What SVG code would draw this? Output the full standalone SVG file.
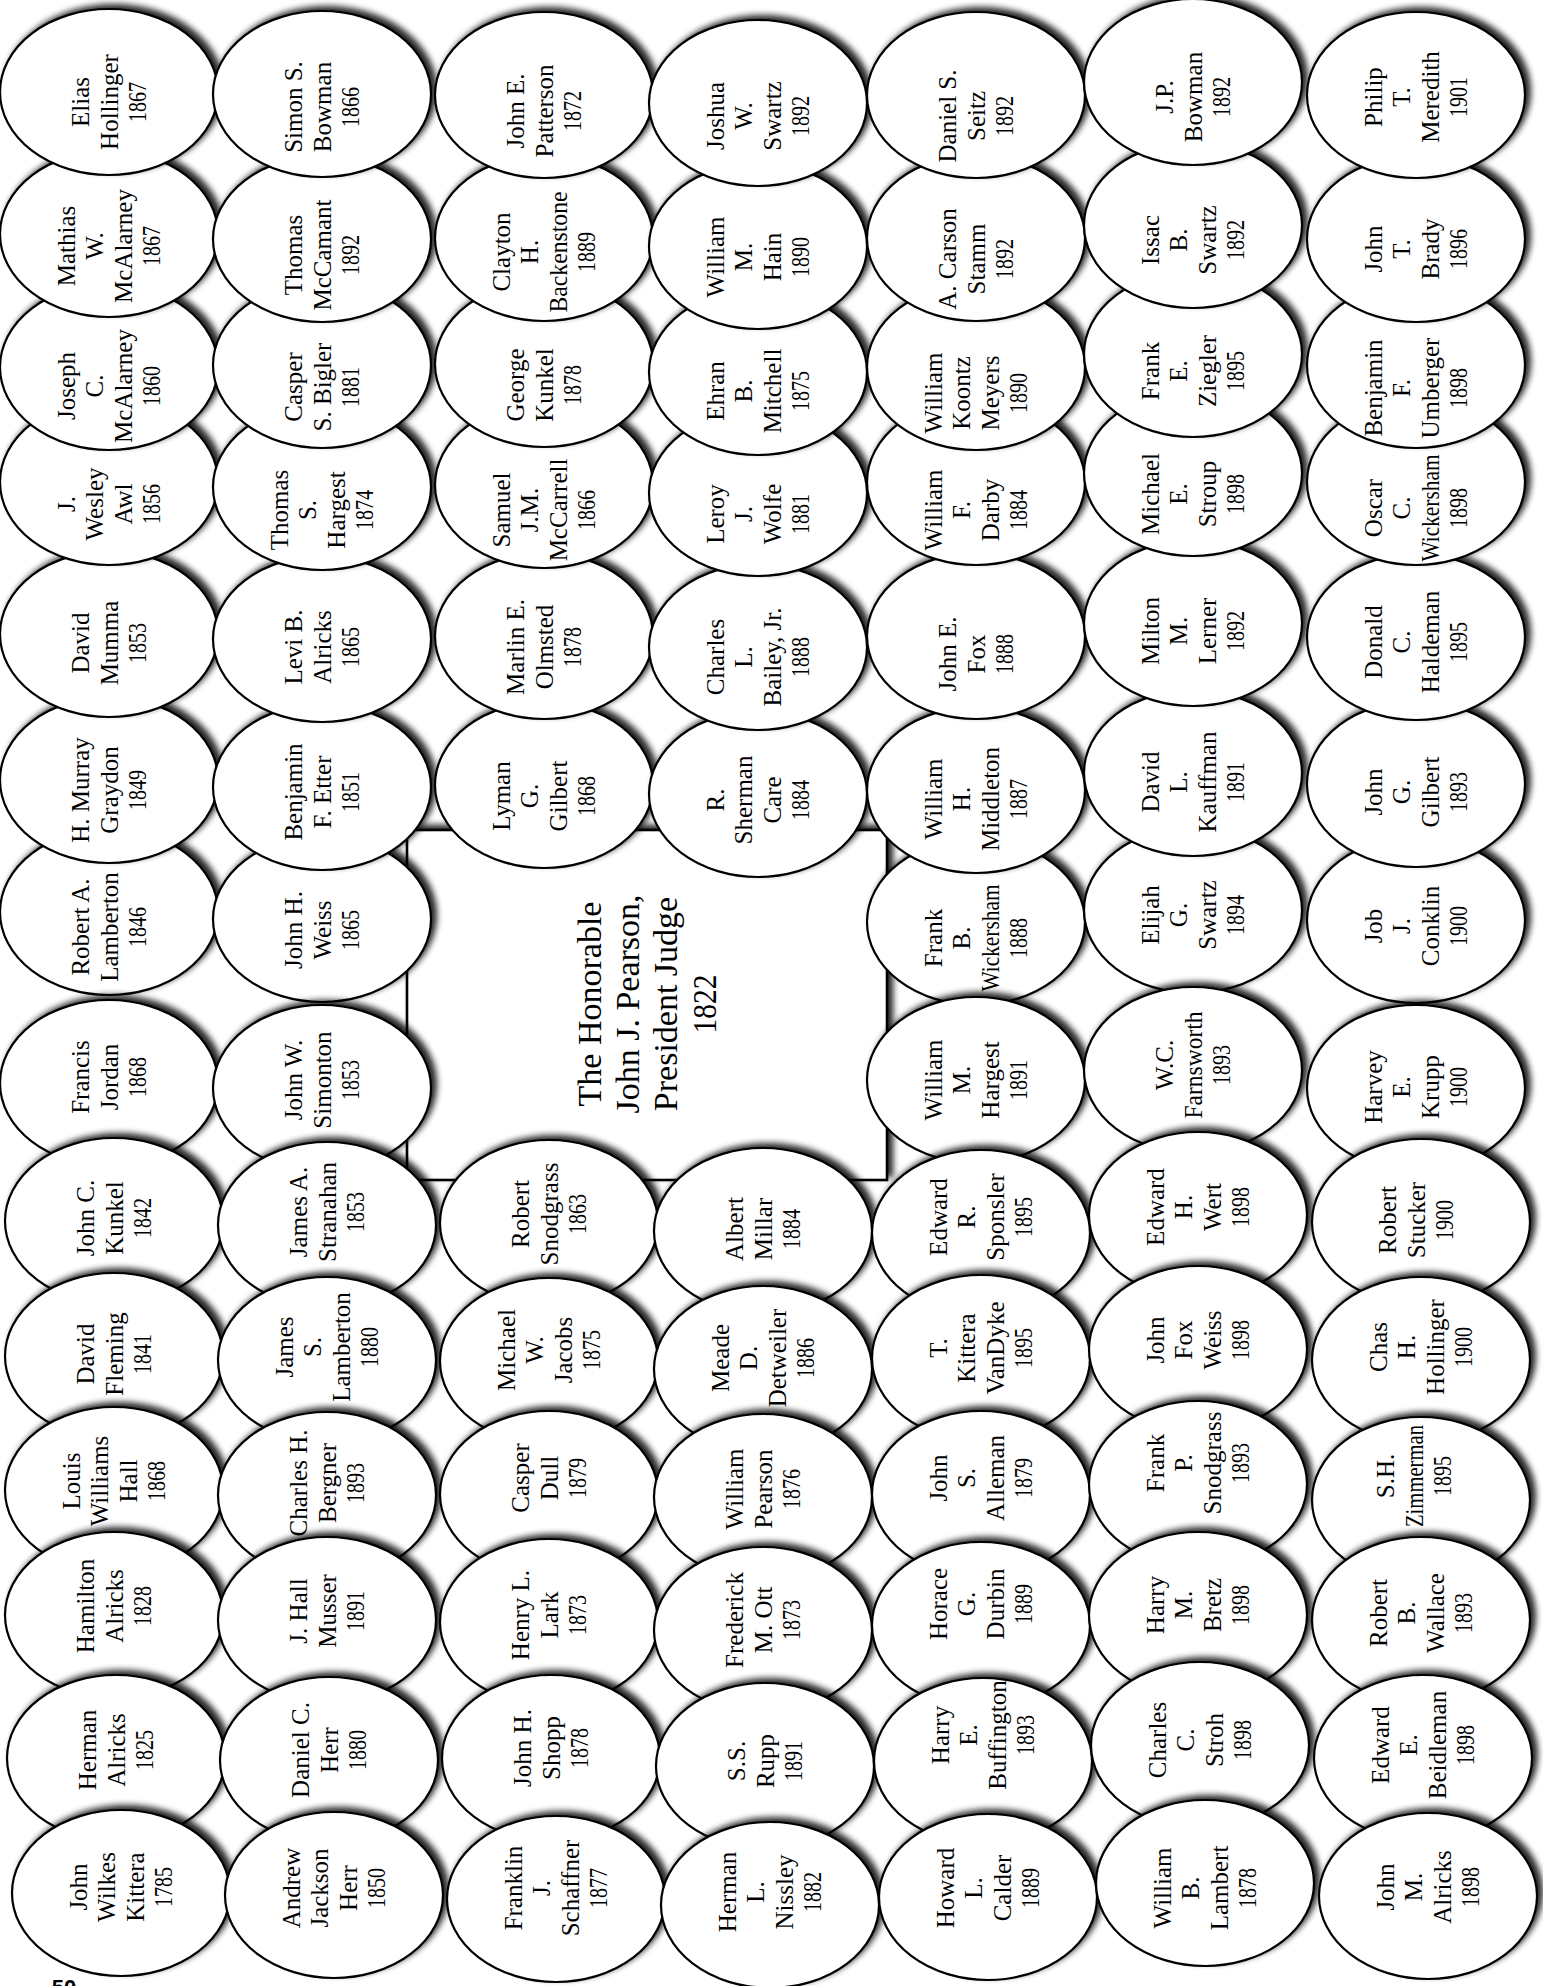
<svg xmlns="http://www.w3.org/2000/svg" width="1543" height="1986" viewBox="0 0 1543 1986">
<defs>
<filter id="sh" x="-15%" y="-20%" width="130%" height="140%" color-interpolation-filters="sRGB">
<feGaussianBlur in="SourceAlpha" stdDeviation="3"/>
<feOffset dx="5" dy="-4" result="o"/>
<feComponentTransfer in="o" result="s"><feFuncA type="linear" slope="0.85"/></feComponentTransfer>
<feMerge><feMergeNode in="s"/><feMergeNode in="SourceGraphic"/></feMerge>
</filter>
</defs>
<style>
.n ellipse{fill:#fff;stroke:#000;stroke-width:2.2;filter:url(#sh)}
text{font-family:"Liberation Serif","Times New Roman",serif;fill:#000;text-anchor:middle}
.n text{font-size:25px}
#judge rect{fill:#fff;stroke:#000;stroke-width:2.6;filter:url(#sh)}
#judge text{font-size:34px}
</style>
<rect x="0" y="0" width="1543" height="1986" fill="#fff"/>
<g id="judge"><rect x="407" y="830" width="480" height="350"/><g transform="translate(647 1004) rotate(-90)"><text y="-46.5">The Honorable</text><text y="-8.2">John J. Pearson,</text><text y="30.2">President Judge</text><text y="68.5" textLength="59" lengthAdjust="spacingAndGlyphs">1822</text></g></g>
<g id="connectors"/>
<g id="nodes">
<!-- column 1 -->
<g id="n-lamberton-1846" class="n"><ellipse cx="109" cy="912" rx="109" ry="83"/><g transform="translate(109 927) rotate(-90)"><text y="-20">Robert A.</text><text y="8.5">Lamberton</text><text y="37" textLength="40" lengthAdjust="spacingAndGlyphs">1846</text></g></g>
<g id="n-graydon-1849" class="n"><ellipse cx="109" cy="780" rx="109" ry="83"/><g transform="translate(109 790) rotate(-90)"><text y="-20">H. Murray</text><text y="8.5">Graydon</text><text y="37" textLength="40" lengthAdjust="spacingAndGlyphs">1849</text></g></g>
<g id="n-mumma-1853" class="n"><ellipse cx="109" cy="634" rx="109" ry="83"/><g transform="translate(109 643) rotate(-90)"><text y="-20">David</text><text y="8.5">Mumma</text><text y="37" textLength="40" lengthAdjust="spacingAndGlyphs">1853</text></g></g>
<g id="n-awl-1856" class="n"><ellipse cx="109" cy="482" rx="109" ry="83"/><g transform="translate(109 504) rotate(-90)"><text y="-34.2">J.</text><text y="-5.7">Wesley</text><text y="22.8">Awl</text><text y="51.3" textLength="40" lengthAdjust="spacingAndGlyphs">1856</text></g></g>
<g id="n-mcalarney-1860" class="n"><ellipse cx="109" cy="367" rx="109" ry="83"/><g transform="translate(109 386) rotate(-90)"><text y="-34.2">Joseph</text><text y="-5.7">C.</text><text y="22.8">McAlarney</text><text y="51.3" textLength="40" lengthAdjust="spacingAndGlyphs">1860</text></g></g>
<g id="n-mcalarney-1867" class="n"><ellipse cx="109" cy="234" rx="109" ry="83"/><g transform="translate(109 246) rotate(-90)"><text y="-34.2">Mathias</text><text y="-5.7">W.</text><text y="22.8">McAlarney</text><text y="51.3" textLength="40" lengthAdjust="spacingAndGlyphs">1867</text></g></g>
<g id="n-hollinger-1867" class="n"><ellipse cx="109" cy="92" rx="109" ry="83"/><g transform="translate(109 102) rotate(-90)"><text y="-20">Elias</text><text y="8.5">Hollinger</text><text y="37" textLength="40" lengthAdjust="spacingAndGlyphs">1867</text></g></g>
<g id="n-jordan-1868" class="n"><ellipse cx="109" cy="1083" rx="109" ry="83"/><g transform="translate(109 1077) rotate(-90)"><text y="-20">Francis</text><text y="8.5">Jordan</text><text y="37" textLength="40" lengthAdjust="spacingAndGlyphs">1868</text></g></g>
<g id="n-kunkel-1842" class="n"><ellipse cx="114" cy="1221" rx="109" ry="83"/><g transform="translate(114 1218) rotate(-90)"><text y="-20">John C.</text><text y="8.5">Kunkel</text><text y="37" textLength="40" lengthAdjust="spacingAndGlyphs">1842</text></g></g>
<g id="n-fleming-1841" class="n"><ellipse cx="114" cy="1356" rx="109" ry="83"/><g transform="translate(114 1354) rotate(-90)"><text y="-20">David</text><text y="8.5">Fleming</text><text y="37" textLength="40" lengthAdjust="spacingAndGlyphs">1841</text></g></g>
<g id="n-hall-1868" class="n"><ellipse cx="114" cy="1490" rx="109" ry="83"/><g transform="translate(114 1481) rotate(-90)"><text y="-34.2">Louis</text><text y="-5.7">Williams</text><text y="22.8">Hall</text><text y="51.3" textLength="40" lengthAdjust="spacingAndGlyphs">1868</text></g></g>
<g id="n-alricks-1828" class="n"><ellipse cx="114" cy="1615" rx="109" ry="83"/><g transform="translate(114 1606) rotate(-90)"><text y="-20">Hamilton</text><text y="8.5">Alricks</text><text y="37" textLength="40" lengthAdjust="spacingAndGlyphs">1828</text></g></g>
<g id="n-alricks-1825" class="n"><ellipse cx="116" cy="1758" rx="109" ry="83"/><g transform="translate(116 1750) rotate(-90)"><text y="-20">Herman</text><text y="8.5">Alricks</text><text y="37" textLength="40" lengthAdjust="spacingAndGlyphs">1825</text></g></g>
<g id="n-kittera-1785" class="n"><ellipse cx="121" cy="1893" rx="109" ry="83"/><g transform="translate(121 1887) rotate(-90)"><text y="-34.2">John</text><text y="-5.7">Wilkes</text><text y="22.8">Kittera</text><text y="51.3" textLength="40" lengthAdjust="spacingAndGlyphs">1785</text></g></g>
<!-- column 2 -->
<g id="n-weiss-1865" class="n"><ellipse cx="322" cy="919" rx="109" ry="83"/><g transform="translate(322 930) rotate(-90)"><text y="-20">John H.</text><text y="8.5">Weiss</text><text y="37" textLength="40" lengthAdjust="spacingAndGlyphs">1865</text></g></g>
<g id="n-etter-1851" class="n"><ellipse cx="322" cy="787" rx="109" ry="83"/><g transform="translate(322 792) rotate(-90)"><text y="-20">Benjamin</text><text y="8.5">F. Etter</text><text y="37" textLength="40" lengthAdjust="spacingAndGlyphs">1851</text></g></g>
<g id="n-alricks-1865" class="n"><ellipse cx="322" cy="639" rx="109" ry="83"/><g transform="translate(322 647) rotate(-90)"><text y="-20">Levi B.</text><text y="8.5">Alricks</text><text y="37" textLength="40" lengthAdjust="spacingAndGlyphs">1865</text></g></g>
<g id="n-hargest-1874" class="n"><ellipse cx="322" cy="487" rx="109" ry="83"/><g transform="translate(322 510) rotate(-90)"><text y="-34.2">Thomas</text><text y="-5.7">S.</text><text y="22.8">Hargest</text><text y="51.3" textLength="40" lengthAdjust="spacingAndGlyphs">1874</text></g></g>
<g id="n-bigler-1881" class="n"><ellipse cx="322" cy="365" rx="109" ry="83"/><g transform="translate(322 387) rotate(-90)"><text y="-20">Casper</text><text y="8.5">S. Bigler</text><text y="37" textLength="40" lengthAdjust="spacingAndGlyphs">1881</text></g></g>
<g id="n-mccamant-1892" class="n"><ellipse cx="322" cy="239" rx="109" ry="83"/><g transform="translate(322 255) rotate(-90)"><text y="-20">Thomas</text><text y="8.5">McCamant</text><text y="37" textLength="40" lengthAdjust="spacingAndGlyphs">1892</text></g></g>
<g id="n-bowman-1866" class="n"><ellipse cx="322" cy="94" rx="109" ry="83"/><g transform="translate(322 107) rotate(-90)"><text y="-20">Simon S.</text><text y="8.5">Bowman</text><text y="37" textLength="40" lengthAdjust="spacingAndGlyphs">1866</text></g></g>
<g id="n-simonton-1853" class="n"><ellipse cx="322" cy="1088" rx="109" ry="83"/><g transform="translate(322 1080) rotate(-90)"><text y="-20">John W.</text><text y="8.5">Simonton</text><text y="37" textLength="40" lengthAdjust="spacingAndGlyphs">1853</text></g></g>
<g id="n-stranahan-1853" class="n"><ellipse cx="327" cy="1225" rx="109" ry="83"/><g transform="translate(327 1212) rotate(-90)"><text y="-20">James A.</text><text y="8.5">Stranahan</text><text y="37" textLength="40" lengthAdjust="spacingAndGlyphs">1853</text></g></g>
<g id="n-lamberton-1880" class="n"><ellipse cx="327" cy="1360" rx="109" ry="83"/><g transform="translate(327 1347) rotate(-90)"><text y="-34.2">James</text><text y="-5.7">S.</text><text y="22.8">Lamberton</text><text y="51.3" textLength="40" lengthAdjust="spacingAndGlyphs">1880</text></g></g>
<g id="n-bergner-1893" class="n"><ellipse cx="327" cy="1495" rx="109" ry="83"/><g transform="translate(327 1483) rotate(-90)"><text y="-20">Charles H.</text><text y="8.5">Bergner</text><text y="37" textLength="40" lengthAdjust="spacingAndGlyphs">1893</text></g></g>
<g id="n-musser-1891" class="n"><ellipse cx="327" cy="1620" rx="109" ry="83"/><g transform="translate(327 1611) rotate(-90)"><text y="-20">J. Hall</text><text y="8.5">Musser</text><text y="37" textLength="40" lengthAdjust="spacingAndGlyphs">1891</text></g></g>
<g id="n-herr-1880" class="n"><ellipse cx="329" cy="1760" rx="109" ry="83"/><g transform="translate(329 1750) rotate(-90)"><text y="-20">Daniel C.</text><text y="8.5">Herr</text><text y="37" textLength="40" lengthAdjust="spacingAndGlyphs">1880</text></g></g>
<g id="n-herr-1850" class="n"><ellipse cx="334" cy="1895" rx="109" ry="83"/><g transform="translate(334 1888) rotate(-90)"><text y="-34.2">Andrew</text><text y="-5.7">Jackson</text><text y="22.8">Herr</text><text y="51.3" textLength="40" lengthAdjust="spacingAndGlyphs">1850</text></g></g>
<!-- column 3 -->
<g id="n-gilbert-1868" class="n"><ellipse cx="544" cy="785" rx="109" ry="83"/><g transform="translate(544 796) rotate(-90)"><text y="-34.2">Lyman</text><text y="-5.7">G.</text><text y="22.8">Gilbert</text><text y="51.3" textLength="40" lengthAdjust="spacingAndGlyphs">1868</text></g></g>
<g id="n-olmsted-1878" class="n"><ellipse cx="544" cy="636" rx="109" ry="83"/><g transform="translate(544 647) rotate(-90)"><text y="-20">Marlin E.</text><text y="8.5">Olmsted</text><text y="37" textLength="40" lengthAdjust="spacingAndGlyphs">1878</text></g></g>
<g id="n-mccarrell-1866" class="n"><ellipse cx="544" cy="485" rx="109" ry="83"/><g transform="translate(544 510) rotate(-90)"><text y="-34.2">Samuel</text><text y="-5.7">J.M.</text><text y="22.8">McCarrell</text><text y="51.3" textLength="40" lengthAdjust="spacingAndGlyphs">1866</text></g></g>
<g id="n-kunkel-1878" class="n"><ellipse cx="544" cy="364" rx="109" ry="83"/><g transform="translate(544 385) rotate(-90)"><text y="-20">George</text><text y="8.5">Kunkel</text><text y="37" textLength="40" lengthAdjust="spacingAndGlyphs">1878</text></g></g>
<g id="n-backenstone-1889" class="n"><ellipse cx="544" cy="238" rx="109" ry="83"/><g transform="translate(544 252) rotate(-90)"><text y="-34.2">Clayton</text><text y="-5.7">H.</text><text y="22.8" textLength="121" lengthAdjust="spacingAndGlyphs">Backenstone</text><text y="51.3" textLength="40" lengthAdjust="spacingAndGlyphs">1889</text></g></g>
<g id="n-patterson-1872" class="n"><ellipse cx="544" cy="95" rx="109" ry="83"/><g transform="translate(544 111) rotate(-90)"><text y="-20">John E.</text><text y="8.5">Patterson</text><text y="37" textLength="40" lengthAdjust="spacingAndGlyphs">1872</text></g></g>
<g id="n-snodgrass-1863" class="n"><ellipse cx="549" cy="1223" rx="109" ry="83"/><g transform="translate(549 1214) rotate(-90)"><text y="-20">Robert</text><text y="8.5">Snodgrass</text><text y="37" textLength="40" lengthAdjust="spacingAndGlyphs">1863</text></g></g>
<g id="n-jacobs-1875" class="n"><ellipse cx="549" cy="1361" rx="109" ry="83"/><g transform="translate(549 1350) rotate(-90)"><text y="-34.2">Michael</text><text y="-5.7">W.</text><text y="22.8">Jacobs</text><text y="51.3" textLength="40" lengthAdjust="spacingAndGlyphs">1875</text></g></g>
<g id="n-dull-1879" class="n"><ellipse cx="549" cy="1494" rx="109" ry="83"/><g transform="translate(549 1478) rotate(-90)"><text y="-20">Casper</text><text y="8.5">Dull</text><text y="37" textLength="40" lengthAdjust="spacingAndGlyphs">1879</text></g></g>
<g id="n-lark-1873" class="n"><ellipse cx="549" cy="1622" rx="109" ry="83"/><g transform="translate(549 1615) rotate(-90)"><text y="-20">Henry L.</text><text y="8.5">Lark</text><text y="37" textLength="40" lengthAdjust="spacingAndGlyphs">1873</text></g></g>
<g id="n-shopp-1878" class="n"><ellipse cx="551" cy="1758" rx="109" ry="83"/><g transform="translate(551 1748) rotate(-90)"><text y="-20">John H.</text><text y="8.5">Shopp</text><text y="37" textLength="40" lengthAdjust="spacingAndGlyphs">1878</text></g></g>
<g id="n-schaffner-1877" class="n"><ellipse cx="556" cy="1899" rx="109" ry="83"/><g transform="translate(556 1888) rotate(-90)"><text y="-34.2">Franklin</text><text y="-5.7">J.</text><text y="22.8">Schaffner</text><text y="51.3" textLength="40" lengthAdjust="spacingAndGlyphs">1877</text></g></g>
<!-- column 4 -->
<g id="n-care-1884" class="n"><ellipse cx="758" cy="794" rx="109" ry="83"/><g transform="translate(758 800) rotate(-90)"><text y="-34.2">R.</text><text y="-5.7">Sherman</text><text y="22.8">Care</text><text y="51.3" textLength="40" lengthAdjust="spacingAndGlyphs">1884</text></g></g>
<g id="n-bailey-1888" class="n"><ellipse cx="758" cy="647" rx="109" ry="83"/><g transform="translate(758 657) rotate(-90)"><text y="-34.2">Charles</text><text y="-5.7">L.</text><text y="22.8">Bailey, Jr.</text><text y="51.3" textLength="40" lengthAdjust="spacingAndGlyphs">1888</text></g></g>
<g id="n-wolfe-1881" class="n"><ellipse cx="758" cy="493" rx="109" ry="83"/><g transform="translate(758 514) rotate(-90)"><text y="-34.2">Leroy</text><text y="-5.7">J.</text><text y="22.8">Wolfe</text><text y="51.3" textLength="40" lengthAdjust="spacingAndGlyphs">1881</text></g></g>
<g id="n-mitchell-1875" class="n"><ellipse cx="758" cy="372" rx="109" ry="83"/><g transform="translate(758 391) rotate(-90)"><text y="-34.2">Ehran</text><text y="-5.7">B.</text><text y="22.8">Mitchell</text><text y="51.3" textLength="40" lengthAdjust="spacingAndGlyphs">1875</text></g></g>
<g id="n-hain-1890" class="n"><ellipse cx="758" cy="246" rx="109" ry="83"/><g transform="translate(758 257) rotate(-90)"><text y="-34.2">William</text><text y="-5.7">M.</text><text y="22.8">Hain</text><text y="51.3" textLength="40" lengthAdjust="spacingAndGlyphs">1890</text></g></g>
<g id="n-swartz-1892a" class="n"><ellipse cx="758" cy="103" rx="109" ry="83"/><g transform="translate(758 116) rotate(-90)"><text y="-34.2">Joshua</text><text y="-5.7">W.</text><text y="22.8">Swartz</text><text y="51.3" textLength="40" lengthAdjust="spacingAndGlyphs">1892</text></g></g>
<g id="n-millar-1884" class="n"><ellipse cx="763" cy="1231" rx="109" ry="83"/><g transform="translate(763 1229) rotate(-90)"><text y="-20">Albert</text><text y="8.5">Millar</text><text y="37" textLength="40" lengthAdjust="spacingAndGlyphs">1884</text></g></g>
<g id="n-detweiler-1886" class="n"><ellipse cx="763" cy="1369" rx="109" ry="83"/><g transform="translate(763 1358) rotate(-90)"><text y="-34.2">Meade</text><text y="-5.7">D.</text><text y="22.8">Detweiler</text><text y="51.3" textLength="40" lengthAdjust="spacingAndGlyphs">1886</text></g></g>
<g id="n-pearson-1876" class="n"><ellipse cx="763" cy="1497" rx="109" ry="83"/><g transform="translate(763 1489) rotate(-90)"><text y="-20">William</text><text y="8.5">Pearson</text><text y="37" textLength="40" lengthAdjust="spacingAndGlyphs">1876</text></g></g>
<g id="n-ott-1873" class="n"><ellipse cx="763" cy="1630" rx="109" ry="83"/><g transform="translate(763 1620) rotate(-90)"><text y="-20">Frederick</text><text y="8.5">M. Ott</text><text y="37" textLength="40" lengthAdjust="spacingAndGlyphs">1873</text></g></g>
<g id="n-rupp-1891" class="n"><ellipse cx="765" cy="1766" rx="109" ry="83"/><g transform="translate(765 1761) rotate(-90)"><text y="-20">S.S.</text><text y="8.5">Rupp</text><text y="37" textLength="40" lengthAdjust="spacingAndGlyphs">1891</text></g></g>
<g id="n-nissley-1882" class="n"><ellipse cx="770" cy="1905" rx="109" ry="83"/><g transform="translate(770 1892) rotate(-90)"><text y="-34.2">Herman</text><text y="-5.7">L.</text><text y="22.8">Nissley</text><text y="51.3" textLength="40" lengthAdjust="spacingAndGlyphs">1882</text></g></g>
<!-- column 5 -->
<g id="n-wickersham-1888" class="n"><ellipse cx="976" cy="922" rx="109" ry="83"/><g transform="translate(976 938) rotate(-90)"><text y="-34.2">Frank</text><text y="-5.7">B.</text><text y="22.8" textLength="107" lengthAdjust="spacingAndGlyphs">Wickersham</text><text y="51.3" textLength="40" lengthAdjust="spacingAndGlyphs">1888</text></g></g>
<g id="n-middleton-1887" class="n"><ellipse cx="976" cy="790" rx="109" ry="83"/><g transform="translate(976 799) rotate(-90)"><text y="-34.2">William</text><text y="-5.7">H.</text><text y="22.8">Middleton</text><text y="51.3" textLength="40" lengthAdjust="spacingAndGlyphs">1887</text></g></g>
<g id="n-fox-1888" class="n"><ellipse cx="976" cy="636" rx="109" ry="83"/><g transform="translate(976 654) rotate(-90)"><text y="-20">John E.</text><text y="8.5">Fox</text><text y="37" textLength="40" lengthAdjust="spacingAndGlyphs">1888</text></g></g>
<g id="n-darby-1884" class="n"><ellipse cx="976" cy="482" rx="109" ry="83"/><g transform="translate(976 510) rotate(-90)"><text y="-34.2">William</text><text y="-5.7">F.</text><text y="22.8">Darby</text><text y="51.3" textLength="40" lengthAdjust="spacingAndGlyphs">1884</text></g></g>
<g id="n-meyers-1890" class="n"><ellipse cx="976" cy="367" rx="109" ry="83"/><g transform="translate(976 393) rotate(-90)"><text y="-34.2">William</text><text y="-5.7">Koontz</text><text y="22.8">Meyers</text><text y="51.3" textLength="40" lengthAdjust="spacingAndGlyphs">1890</text></g></g>
<g id="n-stamm-1892" class="n"><ellipse cx="976" cy="238" rx="109" ry="83"/><g transform="translate(976 259) rotate(-90)"><text y="-20">A. Carson</text><text y="8.5">Stamm</text><text y="37" textLength="40" lengthAdjust="spacingAndGlyphs">1892</text></g></g>
<g id="n-seitz-1892" class="n"><ellipse cx="976" cy="95" rx="109" ry="83"/><g transform="translate(976 116) rotate(-90)"><text y="-20">Daniel S.</text><text y="8.5">Seitz</text><text y="37" textLength="40" lengthAdjust="spacingAndGlyphs">1892</text></g></g>
<g id="n-hargest-1891" class="n"><ellipse cx="976" cy="1080" rx="109" ry="83"/><g transform="translate(976 1080) rotate(-90)"><text y="-34.2">William</text><text y="-5.7">M.</text><text y="22.8">Hargest</text><text y="51.3" textLength="40" lengthAdjust="spacingAndGlyphs">1891</text></g></g>
<g id="n-sponsler-1895" class="n"><ellipse cx="981" cy="1233" rx="109" ry="83"/><g transform="translate(981 1217) rotate(-90)"><text y="-34.2">Edward</text><text y="-5.7">R.</text><text y="22.8">Sponsler</text><text y="51.3" textLength="40" lengthAdjust="spacingAndGlyphs">1895</text></g></g>
<g id="n-vandyke-1895" class="n"><ellipse cx="981" cy="1358" rx="109" ry="83"/><g transform="translate(981 1348) rotate(-90)"><text y="-34.2">T.</text><text y="-5.7">Kittera</text><text y="22.8">VanDyke</text><text y="51.3" textLength="40" lengthAdjust="spacingAndGlyphs">1895</text></g></g>
<g id="n-alleman-1879" class="n"><ellipse cx="981" cy="1494" rx="109" ry="83"/><g transform="translate(981 1478) rotate(-90)"><text y="-34.2">John</text><text y="-5.7">S.</text><text y="22.8">Alleman</text><text y="51.3" textLength="40" lengthAdjust="spacingAndGlyphs">1879</text></g></g>
<g id="n-durbin-1889" class="n"><ellipse cx="981" cy="1625" rx="109" ry="83"/><g transform="translate(981 1604) rotate(-90)"><text y="-34.2">Horace</text><text y="-5.7">G.</text><text y="22.8">Durbin</text><text y="51.3" textLength="40" lengthAdjust="spacingAndGlyphs">1889</text></g></g>
<g id="n-buffington-1893" class="n"><ellipse cx="983" cy="1761" rx="109" ry="83"/><g transform="translate(983 1735) rotate(-90)"><text y="-34.2">Harry</text><text y="-5.7">E.</text><text y="22.8">Buffington</text><text y="51.3" textLength="40" lengthAdjust="spacingAndGlyphs">1893</text></g></g>
<g id="n-calder-1889" class="n"><ellipse cx="988" cy="1897" rx="109" ry="83"/><g transform="translate(988 1888) rotate(-90)"><text y="-34.2">Howard</text><text y="-5.7">L.</text><text y="22.8">Calder</text><text y="51.3" textLength="40" lengthAdjust="spacingAndGlyphs">1889</text></g></g>
<!-- column 6 -->
<g id="n-swartz-1894" class="n"><ellipse cx="1193" cy="910" rx="109" ry="83"/><g transform="translate(1193 915) rotate(-90)"><text y="-34.2">Elijah</text><text y="-5.7">G.</text><text y="22.8">Swartz</text><text y="51.3" textLength="40" lengthAdjust="spacingAndGlyphs">1894</text></g></g>
<g id="n-kauffman-1891" class="n"><ellipse cx="1193" cy="773" rx="109" ry="83"/><g transform="translate(1193 782) rotate(-90)"><text y="-34.2">David</text><text y="-5.7">L.</text><text y="22.8">Kauffman</text><text y="51.3" textLength="40" lengthAdjust="spacingAndGlyphs">1891</text></g></g>
<g id="n-lerner-1892" class="n"><ellipse cx="1193" cy="623" rx="109" ry="83"/><g transform="translate(1193 631) rotate(-90)"><text y="-34.2">Milton</text><text y="-5.7">M.</text><text y="22.8">Lerner</text><text y="51.3" textLength="40" lengthAdjust="spacingAndGlyphs">1892</text></g></g>
<g id="n-stroup-1898" class="n"><ellipse cx="1193" cy="473" rx="109" ry="83"/><g transform="translate(1193 494) rotate(-90)"><text y="-34.2">Michael</text><text y="-5.7">E.</text><text y="22.8">Stroup</text><text y="51.3" textLength="40" lengthAdjust="spacingAndGlyphs">1898</text></g></g>
<g id="n-ziegler-1895" class="n"><ellipse cx="1193" cy="354" rx="109" ry="83"/><g transform="translate(1193 371) rotate(-90)"><text y="-34.2">Frank</text><text y="-5.7">E.</text><text y="22.8">Ziegler</text><text y="51.3" textLength="40" lengthAdjust="spacingAndGlyphs">1895</text></g></g>
<g id="n-swartz-1892b" class="n"><ellipse cx="1193" cy="225" rx="109" ry="83"/><g transform="translate(1193 240) rotate(-90)"><text y="-34.2">Issac</text><text y="-5.7">B.</text><text y="22.8">Swartz</text><text y="51.3" textLength="40" lengthAdjust="spacingAndGlyphs">1892</text></g></g>
<g id="n-bowman-1892" class="n"><ellipse cx="1193" cy="82" rx="109" ry="83"/><g transform="translate(1193 97) rotate(-90)"><text y="-20">J.P.</text><text y="8.5">Bowman</text><text y="37" textLength="40" lengthAdjust="spacingAndGlyphs">1892</text></g></g>
<g id="n-farnsworth-1893" class="n"><ellipse cx="1193" cy="1070" rx="109" ry="83"/><g transform="translate(1193 1065) rotate(-90)"><text y="-20">W.C.</text><text y="8.5" textLength="107" lengthAdjust="spacingAndGlyphs">Farnsworth</text><text y="37" textLength="40" lengthAdjust="spacingAndGlyphs">1893</text></g></g>
<g id="n-wert-1898" class="n"><ellipse cx="1198" cy="1215" rx="109" ry="83"/><g transform="translate(1198 1207) rotate(-90)"><text y="-34.2">Edward</text><text y="-5.7">H.</text><text y="22.8">Wert</text><text y="51.3" textLength="40" lengthAdjust="spacingAndGlyphs">1898</text></g></g>
<g id="n-weiss-1898" class="n"><ellipse cx="1198" cy="1349" rx="109" ry="83"/><g transform="translate(1198 1340) rotate(-90)"><text y="-34.2">John</text><text y="-5.7">Fox</text><text y="22.8">Weiss</text><text y="51.3" textLength="40" lengthAdjust="spacingAndGlyphs">1898</text></g></g>
<g id="n-snodgrass-1893" class="n"><ellipse cx="1198" cy="1484" rx="109" ry="83"/><g transform="translate(1198 1463) rotate(-90)"><text y="-34.2">Frank</text><text y="-5.7">P.</text><text y="22.8">Snodgrass</text><text y="51.3" textLength="40" lengthAdjust="spacingAndGlyphs">1893</text></g></g>
<g id="n-bretz-1898" class="n"><ellipse cx="1198" cy="1615" rx="109" ry="83"/><g transform="translate(1198 1605) rotate(-90)"><text y="-34.2">Harry</text><text y="-5.7">M.</text><text y="22.8">Bretz</text><text y="51.3" textLength="40" lengthAdjust="spacingAndGlyphs">1898</text></g></g>
<g id="n-stroh-1898" class="n"><ellipse cx="1200" cy="1745" rx="109" ry="83"/><g transform="translate(1200 1740) rotate(-90)"><text y="-34.2">Charles</text><text y="-5.7">C.</text><text y="22.8">Stroh</text><text y="51.3" textLength="40" lengthAdjust="spacingAndGlyphs">1898</text></g></g>
<g id="n-lambert-1878" class="n"><ellipse cx="1205" cy="1883" rx="109" ry="83"/><g transform="translate(1205 1888) rotate(-90)"><text y="-34.2">William</text><text y="-5.7">B.</text><text y="22.8">Lambert</text><text y="51.3" textLength="40" lengthAdjust="spacingAndGlyphs">1878</text></g></g>
<!-- column 7 -->
<g id="n-conklin-1900" class="n"><ellipse cx="1416" cy="920" rx="109" ry="83"/><g transform="translate(1416 926) rotate(-90)"><text y="-34.2">Job</text><text y="-5.7">J.</text><text y="22.8">Conklin</text><text y="51.3" textLength="40" lengthAdjust="spacingAndGlyphs">1900</text></g></g>
<g id="n-gilbert-1893" class="n"><ellipse cx="1416" cy="784" rx="109" ry="83"/><g transform="translate(1416 792) rotate(-90)"><text y="-34.2">John</text><text y="-5.7">G.</text><text y="22.8">Gilbert</text><text y="51.3" textLength="40" lengthAdjust="spacingAndGlyphs">1893</text></g></g>
<g id="n-haldeman-1895" class="n"><ellipse cx="1416" cy="637" rx="109" ry="83"/><g transform="translate(1416 642) rotate(-90)"><text y="-34.2">Donald</text><text y="-5.7">C.</text><text y="22.8">Haldeman</text><text y="51.3" textLength="40" lengthAdjust="spacingAndGlyphs">1895</text></g></g>
<g id="n-wickersham-1898" class="n"><ellipse cx="1416" cy="482" rx="109" ry="83"/><g transform="translate(1416 508) rotate(-90)"><text y="-34.2">Oscar</text><text y="-5.7">C.</text><text y="22.8" textLength="107" lengthAdjust="spacingAndGlyphs">Wickersham</text><text y="51.3" textLength="40" lengthAdjust="spacingAndGlyphs">1898</text></g></g>
<g id="n-umberger-1898" class="n"><ellipse cx="1416" cy="365" rx="109" ry="83"/><g transform="translate(1416 388) rotate(-90)"><text y="-34.2">Benjamin</text><text y="-5.7">F.</text><text y="22.8">Umberger</text><text y="51.3" textLength="40" lengthAdjust="spacingAndGlyphs">1898</text></g></g>
<g id="n-brady-1896" class="n"><ellipse cx="1416" cy="239" rx="109" ry="83"/><g transform="translate(1416 249) rotate(-90)"><text y="-34.2">John</text><text y="-5.7">T.</text><text y="22.8">Brady</text><text y="51.3" textLength="40" lengthAdjust="spacingAndGlyphs">1896</text></g></g>
<g id="n-meredith-1901" class="n"><ellipse cx="1416" cy="95" rx="109" ry="83"/><g transform="translate(1416 97) rotate(-90)"><text y="-34.2">Philip</text><text y="-5.7">T.</text><text y="22.8">Meredith</text><text y="51.3" textLength="40" lengthAdjust="spacingAndGlyphs">1901</text></g></g>
<g id="n-krupp-1900" class="n"><ellipse cx="1416" cy="1088" rx="109" ry="83"/><g transform="translate(1416 1087) rotate(-90)"><text y="-34.2">Harvey</text><text y="-5.7">E.</text><text y="22.8">Krupp</text><text y="51.3" textLength="40" lengthAdjust="spacingAndGlyphs">1900</text></g></g>
<g id="n-stucker-1900" class="n"><ellipse cx="1421" cy="1222" rx="109" ry="83"/><g transform="translate(1416 1220) rotate(-90)"><text y="-20">Robert</text><text y="8.5">Stucker</text><text y="37" textLength="40" lengthAdjust="spacingAndGlyphs">1900</text></g></g>
<g id="n-hollinger-1900" class="n"><ellipse cx="1421" cy="1360" rx="109" ry="83"/><g transform="translate(1421 1347) rotate(-90)"><text y="-34.2">Chas</text><text y="-5.7">H.</text><text y="22.8">Hollinger</text><text y="51.3" textLength="40" lengthAdjust="spacingAndGlyphs">1900</text></g></g>
<g id="n-zimmerman-1895" class="n"><ellipse cx="1421" cy="1500" rx="109" ry="83"/><g transform="translate(1414 1476) rotate(-90)"><text y="-20">S.H.</text><text y="8.5" textLength="102" lengthAdjust="spacingAndGlyphs">Zimmerman</text><text y="37" textLength="40" lengthAdjust="spacingAndGlyphs">1895</text></g></g>
<g id="n-wallace-1893" class="n"><ellipse cx="1421" cy="1620" rx="109" ry="83"/><g transform="translate(1421 1613) rotate(-90)"><text y="-34.2">Robert</text><text y="-5.7">B.</text><text y="22.8">Wallace</text><text y="51.3" textLength="40" lengthAdjust="spacingAndGlyphs">1893</text></g></g>
<g id="n-beidleman-1898" class="n"><ellipse cx="1423" cy="1758" rx="109" ry="83"/><g transform="translate(1423 1745) rotate(-90)"><text y="-34.2">Edward</text><text y="-5.7">E.</text><text y="22.8">Beidleman</text><text y="51.3" textLength="40" lengthAdjust="spacingAndGlyphs">1898</text></g></g>
<g id="n-alricks-1898" class="n"><ellipse cx="1428" cy="1896" rx="109" ry="83"/><g transform="translate(1428 1887) rotate(-90)"><text y="-34.2">John</text><text y="-5.7">M.</text><text y="22.8">Alricks</text><text y="51.3" textLength="40" lengthAdjust="spacingAndGlyphs">1898</text></g></g>
</g>
<text x="64" y="1995" style="font-family:'Liberation Sans',Arial,sans-serif;font-weight:bold;font-size:22px">50</text>
</svg>
